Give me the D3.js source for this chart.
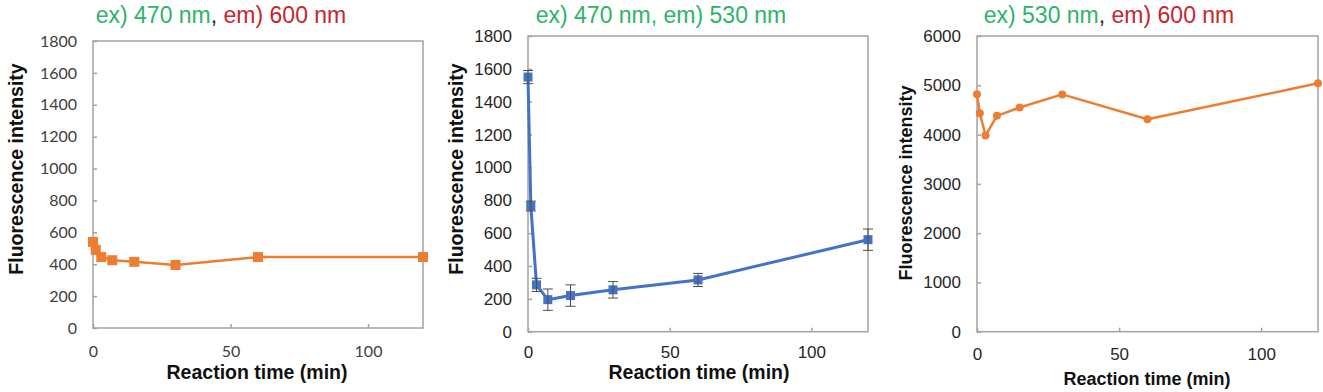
<!DOCTYPE html>
<html>
<head>
<meta charset="utf-8">
<script src="https://cdn.jsdelivr.net/npm/d3@7"></script>
<style>
  body { margin: 0; background: #fff; }
  svg { display: block; }
</style>
</head>
<body>
<svg id="chart" width="1323" height="392"></svg>
<script>
// Reaction times (min), shared by all three panels
const times = [0, 1, 3, 7, 15, 30, 60, 120];

// ex 470 / em 600
const ex470em600 = [540, 490, 445, 425, 415, 395, 445, 445];
// ex 470 / em 530, with error bars
const ex470em530 = [1550, 765, 285, 195, 220, 255, 315, 560];
const ex470em530Err = [40, 30, 40, 65, 65, 50, 40, 65];
// ex 530 / em 600
const ex530em600 = [4820, 4430, 3980, 4380, 4550, 4815, 4310, 5040];

const xTicks = [0, 50, 100];
const yTicksSmall = [0, 200, 400, 600, 800, 1000, 1200, 1400, 1600, 1800];
const yTicksLarge = [0, 1000, 2000, 3000, 4000, 5000, 6000];

const ORANGE = '#ED7D31';
const BLUE = '#4472C4';
const GREEN = '#2db36a';
const RED = '#c8262c';
const FRAME = '#a3a3a3';
const INK = '#262626';

const svg = d3.select('#chart');

const panels = [
  {
    box: { left: 93, top: 41, right: 423, bottom: 328 },
    yMax: 1800, yTicks: yTicksSmall,
    values: ex470em600, errors: null,
    color: ORANGE, marker: 'square', markerSize: 10, lineWidth: 2.5,
    tickFont: 'Lato, "Open Sans", sans-serif', tickSize: 16, tickColor: '#404040', xTickGap: 18,
    title: [['ex) 470 nm', GREEN], [', ', INK], ['em) 600 nm', RED]], titleX: 221,
    yLabel: { x: 23, y: 169, size: 19.5 },
    xLabel: { x: 257, y: 379, size: 19.5 }
  },
  {
    box: { left: 528, top: 36, right: 868, bottom: 331.7 },
    yMax: 1800, yTicks: yTicksSmall,
    values: ex470em530, errors: ex470em530Err,
    color: BLUE, marker: 'square', markerSize: 9, lineWidth: 3,
    tickFont: '"Liberation Sans", Arial, sans-serif', tickSize: 17, tickColor: INK, xTickGap: 14,
    title: [['ex) 470 nm, em) 530 nm', GREEN]], titleX: 661,
    yLabel: { x: 463, y: 169, size: 19.5 },
    xLabel: { x: 699, y: 379, size: 19.5 }
  },
  {
    box: { left: 977, top: 36, right: 1318, bottom: 331.7 },
    yMax: 6000, yTicks: yTicksLarge,
    values: ex530em600, errors: null,
    color: ORANGE, marker: 'circle', markerSize: 8, lineWidth: 2.5,
    tickFont: '"Liberation Sans", Arial, sans-serif', tickSize: 17, tickColor: INK, xTickGap: 16,
    title: [['ex) 530 nm', GREEN], [', ', INK], ['em) 600 nm', RED]], titleX: 1109,
    yLabel: { x: 912, y: 183, size: 18 },
    xLabel: { x: 1147, y: 385, size: 18 }
  }
];

panels.forEach(drawPanel);

function drawPanel(p) {
  const { left, top, right, bottom } = p.box;
  const x = d3.scaleLinear().domain([0, 120]).range([left, right]);
  const y = d3.scaleLinear().domain([0, p.yMax]).range([bottom, top]);
  const g = svg.append('g');
  const fmt = d3.format('d');

  // plot area border
  g.append('rect')
    .attr('x', left).attr('y', top)
    .attr('width', right - left).attr('height', bottom - top)
    .attr('fill', 'none')
    .attr('stroke', FRAME)
    .attr('stroke-width', 1.5);

  // axes, ticks pointing inward
  const yAxis = g.append('g')
    .attr('transform', `translate(${left},0)`)
    .call(d3.axisLeft(y).tickValues(p.yTicks).tickFormat(fmt)
      .tickSizeInner(-4).tickSizeOuter(0).tickPadding(16));
  const xAxis = g.append('g')
    .attr('transform', `translate(0,${bottom})`)
    .call(d3.axisBottom(x).tickValues(xTicks).tickFormat(fmt)
      .tickSizeInner(-4).tickSizeOuter(0).tickPadding(p.xTickGap));

  [yAxis, xAxis].forEach(ax => {
    ax.select('.domain').remove();
    ax.selectAll('line').attr('stroke', FRAME).attr('stroke-width', 1.5);
    ax.selectAll('text')
      .attr('fill', p.tickColor)
      .style('font-family', p.tickFont)
      .style('font-size', `${p.tickSize}px`);
  });

  // series line
  const line = d3.line()
    .x((d, i) => x(times[i]))
    .y(d => y(d));

  g.append('path')
    .datum(p.values)
    .attr('d', line)
    .attr('fill', 'none')
    .attr('stroke', p.color)
    .attr('stroke-width', p.lineWidth)
    .attr('stroke-linejoin', 'round');

  // markers
  if (p.marker === 'square') {
    g.selectAll('.pt').data(p.values).enter()
      .append('rect')
      .attr('class', 'pt')
      .attr('x', (d, i) => x(times[i]) - p.markerSize / 2)
      .attr('y', d => y(d) - p.markerSize / 2)
      .attr('width', p.markerSize)
      .attr('height', p.markerSize)
      .attr('fill', p.color);
  } else {
    g.selectAll('.pt').data(p.values).enter()
      .append('circle')
      .attr('class', 'pt')
      .attr('cx', (d, i) => x(times[i]))
      .attr('cy', d => y(d))
      .attr('r', p.markerSize / 2)
      .attr('fill', p.color);
  }

  // error bars on top
  if (p.errors) {
    const eb = g.append('g')
      .attr('stroke', '#4d4d4d')
      .attr('stroke-width', 1);
    p.values.forEach((v, i) => {
      const cx = x(times[i]);
      const y0 = y(v - p.errors[i]);
      const y1 = y(v + p.errors[i]);
      eb.append('line').attr('x1', cx).attr('x2', cx).attr('y1', y0).attr('y2', y1);
      eb.append('line').attr('x1', cx - 5).attr('x2', cx + 5).attr('y1', y0).attr('y2', y0);
      eb.append('line').attr('x1', cx - 5).attr('x2', cx + 5).attr('y1', y1).attr('y2', y1);
    });
  }

  // title with coloured parts
  const title = g.append('text')
    .attr('x', p.titleX)
    .attr('y', 23)
    .attr('text-anchor', 'middle')
    .style('font-family', '"Liberation Sans", Arial, sans-serif')
    .style('font-size', '23px');
  p.title.forEach(([txt, col]) => {
    title.append('tspan').attr('fill', col).text(txt);
  });

  // axis titles
  g.append('text')
    .attr('transform', `translate(${p.yLabel.x},${p.yLabel.y}) rotate(-90)`)
    .attr('text-anchor', 'middle')
    .attr('fill', '#111')
    .style('font-family', '"Liberation Sans", Arial, sans-serif')
    .style('font-weight', 'bold')
    .style('font-size', `${p.yLabel.size}px`)
    .text('Fluorescence intensity');

  g.append('text')
    .attr('x', p.xLabel.x)
    .attr('y', p.xLabel.y)
    .attr('text-anchor', 'middle')
    .attr('fill', '#111')
    .style('font-family', '"Liberation Sans", Arial, sans-serif')
    .style('font-weight', 'bold')
    .style('font-size', `${p.xLabel.size}px`)
    .text('Reaction time (min)');
}
</script>
</body>
</html>
